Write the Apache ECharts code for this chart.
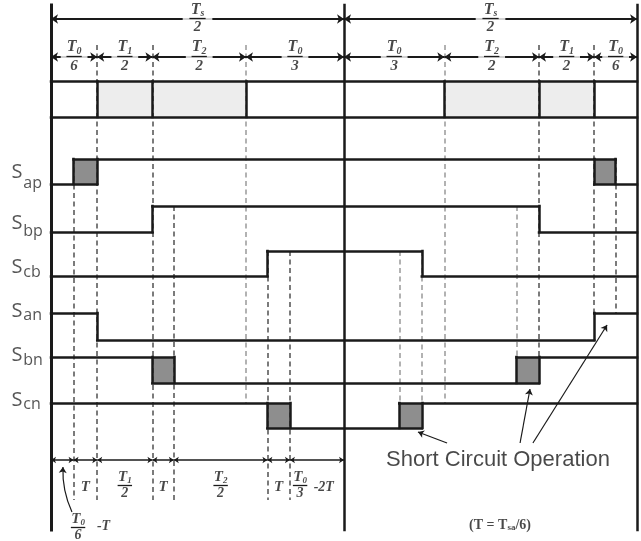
<!DOCTYPE html>
<html><head><meta charset="utf-8">
<script src="https://cdn.jsdelivr.net/npm/echarts@6.0.0/dist/echarts.min.js"></script>
<style>html,body{margin:0;padding:0;background:#fff}#chart{width:641px;height:541px}</style>
</head><body><div id="chart"></div>
<script>
// ================= DATA =================
// switching instants (time axis in units of the overlap time T)
const tk = {a:1.0,b:2.05,c:4.5,d:5.45,e:8.65,f:9.6,g:10.6,h:13,i:15.45,j:16.45,k:17.45,l:20.65,m:21.65,n:24.1,o:25.05,p:26};
const signalNames = ['ap','bp','cb','an','bn','cn'];
const initialStates = [0,0,0,1,1,1];
// each transition = [start, end]; start<end means overlap (short circuit)
const sapEdges = [[tk.a,tk.b],[tk.n,tk.o]];
const sbpEdges = [[tk.c,tk.c],[tk.m,tk.m]];
const scbEdges = [[tk.f,tk.f],[tk.j,tk.j]];
const sanEdges = [[tk.b,tk.b],[tk.n,tk.n]];
const sbnEdges = [[tk.c,tk.d],[tk.l,tk.m]];
const scnEdges = [[tk.f,tk.g],[tk.i,tk.j]];
const signalEdges = [sapEdges,sbpEdges,scbEdges,sanEdges,sbnEdges,scnEdges];
const halfBounds = [0,tk.h,tk.p];
const sectorBounds = [0,tk.b,tk.c,tk.e,tk.h,tk.k,tk.m,tk.n,tk.p];
const sectorSubs = ['0','1','2','0','0','2','1','0'];
const sectorDens = ['6','2','2','3','3','2','2','6'];
const shadedSectors = [[tk.b,tk.e],[tk.k,tk.n]];
const boxDividers = [tk.b,tk.c,tk.e,tk.k,tk.m,tk.n];
const stepBounds = [0,tk.a,tk.b,tk.c,tk.d,tk.f,tk.g,tk.h];
const stepLabels = [null,'T',['1','2'],'T',['2','2'],'T',['0','3']];

// ================= LAYOUT =================
const XMIN=-2.263, XMAX=26.175;
const L = {top:19, sector:57, boxTop:81.5, boxBot:117, step:460, vTop:5, vBot:530,
  low:[184,232,276,340,383,428], high:[159,206,251,313,357,403],
  sY:[172,223,267.5,311.5,355.5,400.5], subY:[183,231,272.5,315.5,360,404],
  sX:-1.51, subX:-1.25};
const guides = [[tk.a,159,500,0],[tk.b,45,500,0],[tk.c,45,500,0],[tk.d,206,500,0],[tk.e,45,403,1],
  [tk.f,251,500,0],[tk.g,251,500,0],[tk.i,251,403,1],[tk.j,251,403,1],[tk.k,45,403,1],
  [tk.l,206,357,1],[tk.m,45,357,0],[tk.n,45,313,0],[tk.o,159,313,0]];
const INK='#1a1a1a', SERIF='Liberation Serif', SANS='Liberation Sans';

// ================= BUILD =================
const solid=[], shortBoxes=[];
halfBounds.forEach((t,i)=>solid.push({coords:[[t,L.vTop],[t,L.vBot]],lineStyle:{width:i===0?3:2.5}}));
solid.push({coords:[[0,L.boxTop],[tk.p,L.boxTop]]});
solid.push({coords:[[0,L.boxBot],[tk.p,L.boxBot]]});
boxDividers.forEach(t=>solid.push({coords:[[t,L.boxTop],[t,L.boxBot]]}));
signalEdges.forEach((edges,i)=>{
  const lo=L.low[i], hi=L.high[i], lv=s=>s?hi:lo;
  let lvl=initialStates[i], cur=0;
  edges.forEach(([a,b])=>{
    solid.push({coords:[[cur,lv(lvl)],[b,lv(lvl)]]});
    solid.push({coords:[[a,lo],[a,hi]]});
    if(b>a){solid.push({coords:[[b,lo],[b,hi]]}); shortBoxes.push([a,b,hi,lo]);}
    cur=a; lvl=1-lvl;
  });
  solid.push({coords:[[cur,lv(lvl)],[tk.p,lv(lvl)]]});
});
const dashed = guides.map(g=>({coords:[[g[0],g[1]],[g[0],g[2]]],lineStyle:{color:g[3]?'#999':'#505050'}}));

function fracRich(fs,lh){
  const base={fontFamily:SERIF,fontStyle:'italic',fontWeight:'bold',color:INK};
  return {t:{...base,fontSize:fs,lineHeight:lh},
          s:{...base,fontSize:Math.round(fs*0.6),verticalAlign:'bottom'},
          d:{...base,fontSize:fs-1,lineHeight:lh},
          m:{...base,fontSize:fs}};
}
const labels=[], bars=[], dimArrows=[], smallArrows=[];
function frac(t,y,sub,den,fs,lh,pad,barHalf){
  labels.push({value:[t,y],label:{formatter:`{t|T}{s|${sub}}\n{d|${den}}`,rich:fracRich(fs,lh),
    backgroundColor:pad?'#fff':'transparent',padding:pad?[0,pad]:0}});
  bars.push({coords:[[t-barHalf,y],[t+barHalf,y]]});
}
function text(t,y,str,style){labels.push({value:[t,y],label:Object.assign({formatter:str},style)});}

// top row: Ts/2
for(let i=0;i<halfBounds.length-1;i++){
  dimArrows.push({coords:[[halfBounds[i],L.top],[halfBounds[i+1],L.top]]});
  frac((halfBounds[i]+halfBounds[i+1])/2,L.top-0.5,'s','2',16,17,8,0.36);
}
// sector row
for(let i=0;i<sectorBounds.length-1;i++){
  dimArrows.push({coords:[[sectorBounds[i],L.sector],[sectorBounds[i+1],L.sector]]});
  frac((sectorBounds[i]+sectorBounds[i+1])/2,L.sector-0.5,sectorSubs[i],sectorDens[i],16,19,6,0.34);
}
// step row
for(let i=0;i<stepBounds.length-1;i++){
  smallArrows.push({coords:[[stepBounds[i],L.step],[stepBounds[i+1],L.step]]});
  const lab=stepLabels[i], mid=(stepBounds[i]+stepBounds[i+1])/2;
  if(lab===null) continue;
  if(typeof lab==='string') text(mid,487,'{m|T}',{rich:fracRich(15,15)});
  else if(i===stepBounds.length-2){ frac(11.05,485.5,lab[0],lab[1],15,16,0,0.32); text(12.1,487,'{m|-2T}',{rich:fracRich(14,15)}); }
  else frac(mid,485.5,lab[0],lab[1],15,16,0,0.32);
}
frac(1.2,527,'0','6',15,16,0,0.32);
text(2.33,526,'{m|-T}',{rich:fracRich(14,15)});
// signal labels
signalNames.forEach((nm,i)=>{
  text(L.sX,L.sY[i],'S',{fontFamily:'Open Sans',fontSize:20,color:'#2a2a2a'});
  text(L.subX,L.subY[i],nm,{fontFamily:'Open Sans',fontSize:16,color:'#2a2a2a',position:'right',distance:0});
});
text(19.83,460,'Short Circuit Operation',{fontFamily:SANS,fontSize:22,color:INK});
text(19.92,525,'{a|(T = T}{b|sa}{a|/6)}',{rich:{a:{fontFamily:SERIF,fontWeight:'bold',fontSize:14,color:INK},
  b:{fontFamily:SERIF,fontWeight:'bold',fontSize:9,color:INK,verticalAlign:'bottom'}}});
const pointers=[[[17.57,443],[16.28,432]],[[20.81,443],[21.25,389]],[[21.38,443],[24.67,325]]];

const option={
  animation:false,
  grid:{left:0,right:0,top:0,bottom:0},
  xAxis:{type:'value',min:XMIN,max:XMAX,show:false},
  yAxis:{type:'value',min:0,max:541,inverse:true,show:false},
  series:[
    {type:'custom',z:1,silent:true,encode:{x:[0,1],y:[2,3]},
     data:shadedSectors.map(s=>[s[0],s[1],L.boxTop,L.boxBot]),
     renderItem:(p,api)=>{const a=api.coord([api.value(0),api.value(2)]),b=api.coord([api.value(1),api.value(3)]);
       return {type:'rect',shape:{x:a[0],y:a[1],width:b[0]-a[0],height:b[1]-a[1]},style:{fill:'#ededed'}};}},
    {type:'custom',z:1,silent:true,encode:{x:[0,1],y:[2,3]},data:shortBoxes,
     renderItem:(p,api)=>{const a=api.coord([api.value(0),api.value(2)]),b=api.coord([api.value(1),api.value(3)]);
       return {type:'rect',shape:{x:a[0],y:a[1],width:b[0]-a[0],height:b[1]-a[1]},style:{fill:'#8e8e8e'}};}},
    {type:'lines',coordinateSystem:'cartesian2d',z:2,silent:true,symbol:'none',
     lineStyle:{width:1.5,type:[5,3.5],opacity:1},data:dashed},
    {type:'lines',coordinateSystem:'cartesian2d',z:3,silent:true,symbol:'none',
     lineStyle:{width:2.5,color:INK,opacity:1,cap:'square'},data:solid},
    {type:'lines',coordinateSystem:'cartesian2d',z:3,silent:true,symbol:['arrow','arrow'],symbolSize:7,
     lineStyle:{width:1.8,color:INK,opacity:1},data:dimArrows},
    {type:'lines',coordinateSystem:'cartesian2d',z:3,silent:true,symbol:['arrow','arrow'],symbolSize:5,
     lineStyle:{width:1.5,color:INK,opacity:1},data:smallArrows},
    {type:'lines',coordinateSystem:'cartesian2d',z:3,silent:true,symbol:['none','arrow'],symbolSize:6,
     lineStyle:{width:1.2,color:INK,opacity:1},data:pointers.map(c=>({coords:c}))},
    {type:'lines',coordinateSystem:'cartesian2d',z:3,silent:true,symbol:['none','arrow'],symbolSize:6,
     lineStyle:{width:1.2,color:INK,opacity:1,curveness:0.12},data:[{coords:[[0.93,512],[0.53,467]]}]},
    {type:'scatter',z:4,silent:true,symbolSize:1,itemStyle:{color:'rgba(0,0,0,0)'},
     label:{show:true,position:'inside'},data:labels},
    {type:'lines',coordinateSystem:'cartesian2d',z:5,silent:true,symbol:'none',
     lineStyle:{width:1.3,color:INK,opacity:1},data:bars}
  ]
};
echarts.init(document.getElementById('chart'),null,{renderer:'canvas'}).setOption(option);
</script></body></html>
